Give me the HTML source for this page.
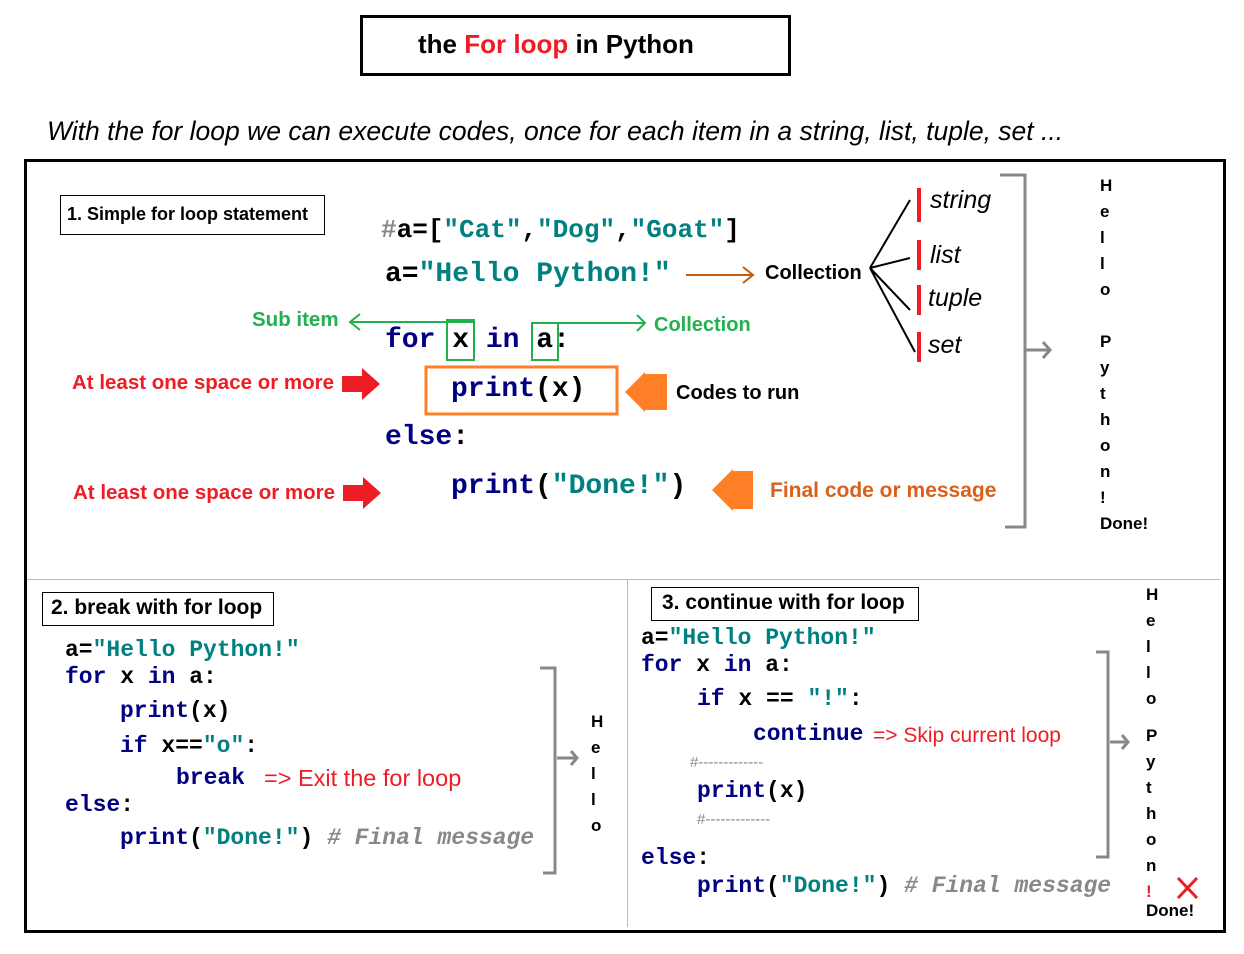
<!DOCTYPE html>
<html><head><meta charset="utf-8"><style>
body{margin:0;width:1244px;height:954px;background:#fff;position:relative;overflow:hidden;font-family:"Liberation Sans",sans-serif}
.t{position:absolute;white-space:pre;line-height:1}
.m{font-family:"Liberation Mono",monospace;font-weight:bold;color:#000080}
.s{color:#008080}.k{color:#000}
.b{font-weight:bold}
.box{position:absolute;border:1px solid #000}
.g{color:#888;font-style:italic;font-weight:bold}
</style></head><body>
<div class="box" style="left:360px;top:15px;width:425px;height:55px;border:3px solid #000"></div>
<div class="t b" style="left:418px;top:31px;font-size:26px">the <span style="color:#ee1c24">For loop</span> in Python</div>
<div class="t" style="left:47px;top:118px;font-size:26.5px;font-style:italic">With the for loop we can execute codes, once for each item in a string, list, tuple, set ...</div>
<div class="box" style="left:24px;top:159px;width:1196px;height:768px;border:3px solid #000"></div>
<div style="position:absolute;left:27px;top:579px;width:1193px;height:1px;background:#bbb"></div>
<div style="position:absolute;left:627px;top:579px;width:1px;height:348px;background:#bbb"></div>

<svg style="position:absolute;left:0;top:0" width="1244" height="954">
<g fill="none" stroke-width="2">
<path d="M686 275H753M743 267L753 275L743 283" stroke="#c55a11"/>
<path d="M870 268L910 200M870 268L910 258M870 268L910 310M870 268L915 352" stroke="#000"/>
<path d="M1000 175H1025V527H1005M1025 350H1050M1043 342L1050 350L1043 358" stroke="#888" stroke-width="3"/>
<path d="M475 322H350M360 314L350 322L360 330" stroke="#22b14c"/>
<path d="M558 323H645M637 315L645 323L637 331" stroke="#22b14c"/>
<rect x="447" y="320" width="27" height="40" stroke="#22b14c"/>
<rect x="532" y="323" width="26" height="37" stroke="#22b14c"/>
<rect x="426" y="367" width="191" height="47" stroke="#ff7f27" stroke-width="3"/>
<path d="M540 668H555V873H543M557 758H577M571 751L577 758L571 765" stroke="#888" stroke-width="3"/>
<path d="M1096 652H1108V857H1096M1110 742H1128M1122 735L1128 742L1122 749" stroke="#888" stroke-width="3"/>
<path d="M1178 878L1197 898M1197 878L1178 898" stroke="#ee1c24" stroke-width="3"/>
</g>
<g fill="#ee1c24">
<rect x="917" y="188" width="4" height="34"/><rect x="917" y="240" width="4" height="30"/>
<rect x="917" y="285" width="4" height="30"/><rect x="917" y="332" width="4" height="30"/>
<path d="M342 376H362V368L380 384L362 400V392H342Z"/>
<path d="M343 485H363V477L381 493L363 509V501H343Z"/>
</g>
<g fill="#ff7f27">
<path d="M667 374H645V372L625 392L645 412V410H667Z"/>
<path d="M753 471H733V469L712 490L733 511V509H753Z"/>
</g>
</svg>

<div class="box" style="left:60px;top:195px;width:263px;height:38px"></div>
<div class="t b" style="left:67px;top:205px;font-size:18px">1. Simple for loop statement</div>
<div class="t m" style="left:381px;top:217px;font-size:26px"><span style="color:#888">#</span><span class="k">a=[</span><span class="s">"Cat"</span><span class="k">,</span><span class="s">"Dog"</span><span class="k">,</span><span class="s">"Goat"</span><span class="k">]</span></div>
<div class="t m" style="left:385px;top:261px;font-size:28px"><span class="k">a=</span><span class="s">"Hello Python!"</span></div>
<div class="t b" style="left:765px;top:263px;font-size:20px">Collection</div>
<div class="t" style="left:930px;top:188px;font-size:25px;font-style:italic">string</div>
<div class="t" style="left:930px;top:243px;font-size:25px;font-style:italic">list</div>
<div class="t" style="left:928px;top:286px;font-size:25px;font-style:italic">tuple</div>
<div class="t" style="left:928px;top:333px;font-size:25px;font-style:italic">set</div>
<div class="t b" style="left:252px;top:310px;font-size:20.5px;color:#22b14c">Sub item</div>
<div class="t b" style="left:654px;top:315px;font-size:20px;color:#22b14c">Collection</div>
<div class="t m" style="left:385px;top:327px;font-size:28px">for <span class="k">x</span> in <span class="k">a</span><span class="k">:</span></div>
<div class="t b" style="left:72px;top:373px;font-size:20.5px;color:#ee1c24">At least one space or more</div>
<div class="t b" style="left:73px;top:483px;font-size:20.5px;color:#ee1c24">At least one space or more</div>
<div class="t m" style="left:451px;top:376px;font-size:28px">print<span class="k">(x)</span></div>
<div class="t b" style="left:676px;top:383px;font-size:20px">Codes to run</div>
<div class="t m" style="left:385px;top:424px;font-size:28px">else<span class="k">:</span></div>
<div class="t m" style="left:451px;top:473px;font-size:28px">print<span class="k">(</span><span class="s">"Done!"</span><span class="k">)</span></div>
<div class="t b" style="left:770px;top:480px;font-size:21px;color:#d9601a">Final code or message</div>
<div class="t b" style="left:1100px;top:173px;font-size:17px;line-height:26px">H<br>e<br>l<br>l<br>o<br><br>P<br>y<br>t<br>h<br>o<br>n<br>!<br>Done!</div>

<div class="box" style="left:42px;top:592px;width:230px;height:32px"></div>
<div class="t b" style="left:51px;top:597px;font-size:21px">2. break with for loop</div>
<div class="t m" style="left:65px;top:639px;font-size:23px"><span class="k">a=</span><span class="s">"Hello Python!"</span></div>
<div class="t m" style="left:65px;top:666px;font-size:23px">for <span class="k">x</span> in <span class="k">a:</span></div>
<div class="t m" style="left:120px;top:700px;font-size:23px">print<span class="k">(x)</span></div>
<div class="t m" style="left:120px;top:735px;font-size:23px">if <span class="k">x==</span><span class="s">"o"</span><span class="k">:</span></div>
<div class="t m" style="left:176px;top:767px;font-size:23px">break</div>
<div class="t" style="left:264px;top:767px;font-size:23.5px;color:#ee1c24">=&gt; Exit the for loop</div>
<div class="t m" style="left:65px;top:794px;font-size:23px">else<span class="k">:</span></div>
<div class="t m" style="left:120px;top:827px;font-size:23px">print<span class="k">(</span><span class="s">"Done!"</span><span class="k">)</span> <span class="g"># Final message</span></div>
<div class="t b" style="left:591px;top:709px;font-size:17px;line-height:26px">H<br>e<br>l<br>l<br>o</div>

<div class="box" style="left:651px;top:587px;width:266px;height:32px"></div>
<div class="t b" style="left:662px;top:592px;font-size:21px">3. continue with for loop</div>
<div class="t m" style="left:641px;top:627px;font-size:23px"><span class="k">a=</span><span class="s">"Hello Python!"</span></div>
<div class="t m" style="left:641px;top:654px;font-size:23px">for <span class="k">x</span> in <span class="k">a:</span></div>
<div class="t m" style="left:697px;top:688px;font-size:23px">if <span class="k">x ==</span> <span class="s">"!"</span><span class="k">:</span></div>
<div class="t m" style="left:753px;top:723px;font-size:23px">continue</div>
<div class="t" style="left:873px;top:725px;font-size:21px;color:#ee1c24">=&gt; Skip current loop</div>
<div class="t" style="left:690px;top:755px;font-size:15px;color:#888">#-------------</div>
<div class="t m" style="left:697px;top:780px;font-size:23px">print<span class="k">(x)</span></div>
<div class="t" style="left:697px;top:812px;font-size:15px;color:#888">#-------------</div>
<div class="t m" style="left:641px;top:847px;font-size:23px">else<span class="k">:</span></div>
<div class="t m" style="left:697px;top:875px;font-size:23px">print<span class="k">(</span><span class="s">"Done!"</span><span class="k">)</span> <span class="g"># Final message</span></div>
<div class="t b" style="left:1146px;top:582px;font-size:17px;line-height:26px">H<br>e<br>l<br>l<br>o</div>
<div class="t b" style="left:1146px;top:723px;font-size:17px;line-height:26px">P<br>y<br>t<br>h<br>o<br>n<br><span style="color:#ee1c24">!</span></div>
<div class="t b" style="left:1146px;top:902px;font-size:17px">Done!</div>
</body></html>
